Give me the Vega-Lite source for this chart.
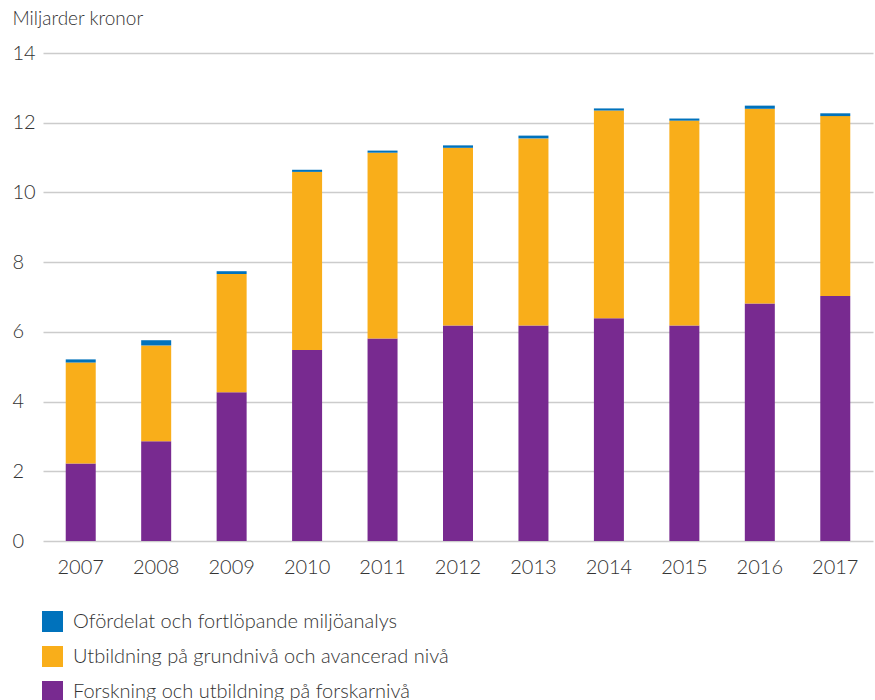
{
  "$schema": "https://vega.github.io/schema/vega-lite/v6.json",
  "autosize": {"type": "none"},
  "width": 830,
  "height": 488,
  "padding": {"left": 43, "top": 53, "right": 2, "bottom": 159},
  "background": "white",
  "config": {
    "font": "Lato",
    "view": {"stroke": null}
  },
  "data": {
    "values": [
      {"år": "2007", "kategori": "Forskning och utbildning på forskarnivå", "nr": 1, "värde": 2.22},
      {"år": "2007", "kategori": "Utbildning på grundnivå och avancerad nivå", "nr": 2, "värde": 2.90},
      {"år": "2007", "kategori": "Ofördelat och fortlöpande miljöanalys", "nr": 3, "värde": 0.09},
      {"år": "2008", "kategori": "Forskning och utbildning på forskarnivå", "nr": 1, "värde": 2.86},
      {"år": "2008", "kategori": "Utbildning på grundnivå och avancerad nivå", "nr": 2, "värde": 2.75},
      {"år": "2008", "kategori": "Ofördelat och fortlöpande miljöanalys", "nr": 3, "värde": 0.15},
      {"år": "2009", "kategori": "Forskning och utbildning på forskarnivå", "nr": 1, "värde": 4.27},
      {"år": "2009", "kategori": "Utbildning på grundnivå och avancerad nivå", "nr": 2, "värde": 3.39},
      {"år": "2009", "kategori": "Ofördelat och fortlöpande miljöanalys", "nr": 3, "värde": 0.08},
      {"år": "2010", "kategori": "Forskning och utbildning på forskarnivå", "nr": 1, "värde": 5.48},
      {"år": "2010", "kategori": "Utbildning på grundnivå och avancerad nivå", "nr": 2, "värde": 5.11},
      {"år": "2010", "kategori": "Ofördelat och fortlöpande miljöanalys", "nr": 3, "värde": 0.06},
      {"år": "2011", "kategori": "Forskning och utbildning på forskarnivå", "nr": 1, "värde": 5.81},
      {"år": "2011", "kategori": "Utbildning på grundnivå och avancerad nivå", "nr": 2, "värde": 5.33},
      {"år": "2011", "kategori": "Ofördelat och fortlöpande miljöanalys", "nr": 3, "värde": 0.06},
      {"år": "2012", "kategori": "Forskning och utbildning på forskarnivå", "nr": 1, "värde": 6.18},
      {"år": "2012", "kategori": "Utbildning på grundnivå och avancerad nivå", "nr": 2, "värde": 5.10},
      {"år": "2012", "kategori": "Ofördelat och fortlöpande miljöanalys", "nr": 3, "värde": 0.07},
      {"år": "2013", "kategori": "Forskning och utbildning på forskarnivå", "nr": 1, "värde": 6.18},
      {"år": "2013", "kategori": "Utbildning på grundnivå och avancerad nivå", "nr": 2, "värde": 5.37},
      {"år": "2013", "kategori": "Ofördelat och fortlöpande miljöanalys", "nr": 3, "värde": 0.08},
      {"år": "2014", "kategori": "Forskning och utbildning på forskarnivå", "nr": 1, "värde": 6.39},
      {"år": "2014", "kategori": "Utbildning på grundnivå och avancerad nivå", "nr": 2, "värde": 5.96},
      {"år": "2014", "kategori": "Ofördelat och fortlöpande miljöanalys", "nr": 3, "värde": 0.06},
      {"år": "2015", "kategori": "Forskning och utbildning på forskarnivå", "nr": 1, "värde": 6.18},
      {"år": "2015", "kategori": "Utbildning på grundnivå och avancerad nivå", "nr": 2, "värde": 5.88},
      {"år": "2015", "kategori": "Ofördelat och fortlöpande miljöanalys", "nr": 3, "värde": 0.06},
      {"år": "2016", "kategori": "Forskning och utbildning på forskarnivå", "nr": 1, "värde": 6.81},
      {"år": "2016", "kategori": "Utbildning på grundnivå och avancerad nivå", "nr": 2, "värde": 5.59},
      {"år": "2016", "kategori": "Ofördelat och fortlöpande miljöanalys", "nr": 3, "värde": 0.09},
      {"år": "2017", "kategori": "Forskning och utbildning på forskarnivå", "nr": 1, "värde": 7.03},
      {"år": "2017", "kategori": "Utbildning på grundnivå och avancerad nivå", "nr": 2, "värde": 5.16},
      {"år": "2017", "kategori": "Ofördelat och fortlöpande miljöanalys", "nr": 3, "värde": 0.08}
    ]
  },
  "mark": {"type": "bar", "size": 30},
  "encoding": {
    "x": {
      "field": "år",
      "type": "nominal",
      "scale": {"paddingInner": 0.6, "paddingOuter": 0.3},
      "axis": {
        "title": null,
        "labelAngle": 0,
        "labelFontSize": 20,
        "labelFontWeight": 300,
        "labelColor": "#333333",
        "labelPadding": 16,
        "domain": false,
        "ticks": false
      }
    },
    "y": {
      "field": "värde",
      "type": "quantitative",
      "stack": "zero",
      "scale": {"domain": [0, 14], "nice": false},
      "axis": {
        "values": [0, 2, 4, 6, 8, 10, 12, 14],
        "title": "Miljarder kronor",
        "titleAngle": 0,
        "titleAlign": "left",
        "titleBaseline": "alphabetic",
        "titleX": -31,
        "titleY": -29,
        "titleFontSize": 19,
        "titleFontWeight": 300,
        "titleColor": "#333333",
        "labelAlign": "left",
        "labelPadding": 31,
        "labelFontSize": 20,
        "labelFontWeight": 300,
        "labelColor": "#333333",
        "domain": false,
        "ticks": false,
        "grid": true,
        "gridColor": "#cccccc",
        "gridWidth": 1.5
      }
    },
    "order": {"field": "nr", "type": "quantitative", "sort": "ascending"},
    "color": {
      "field": "kategori",
      "type": "nominal",
      "scale": {
        "domain": [
          "Ofördelat och fortlöpande miljöanalys",
          "Utbildning på grundnivå och avancerad nivå",
          "Forskning och utbildning på forskarnivå"
        ],
        "range": ["#0072bc", "#f9ae1a", "#782a90"]
      },
      "legend": {
        "title": null,
        "orient": "none",
        "legendX": -1,
        "legendY": 558,
        "direction": "vertical",
        "symbolType": "square",
        "symbolSize": 441,
        "symbolStrokeWidth": 0,
        "symbolOpacity": 1,
        "labelFontSize": 20,
        "labelFontWeight": 300,
        "labelLimit": 600,
        "labelColor": "#333333",
        "labelOffset": 10,
        "rowPadding": 14
      }
    }
  }
}
